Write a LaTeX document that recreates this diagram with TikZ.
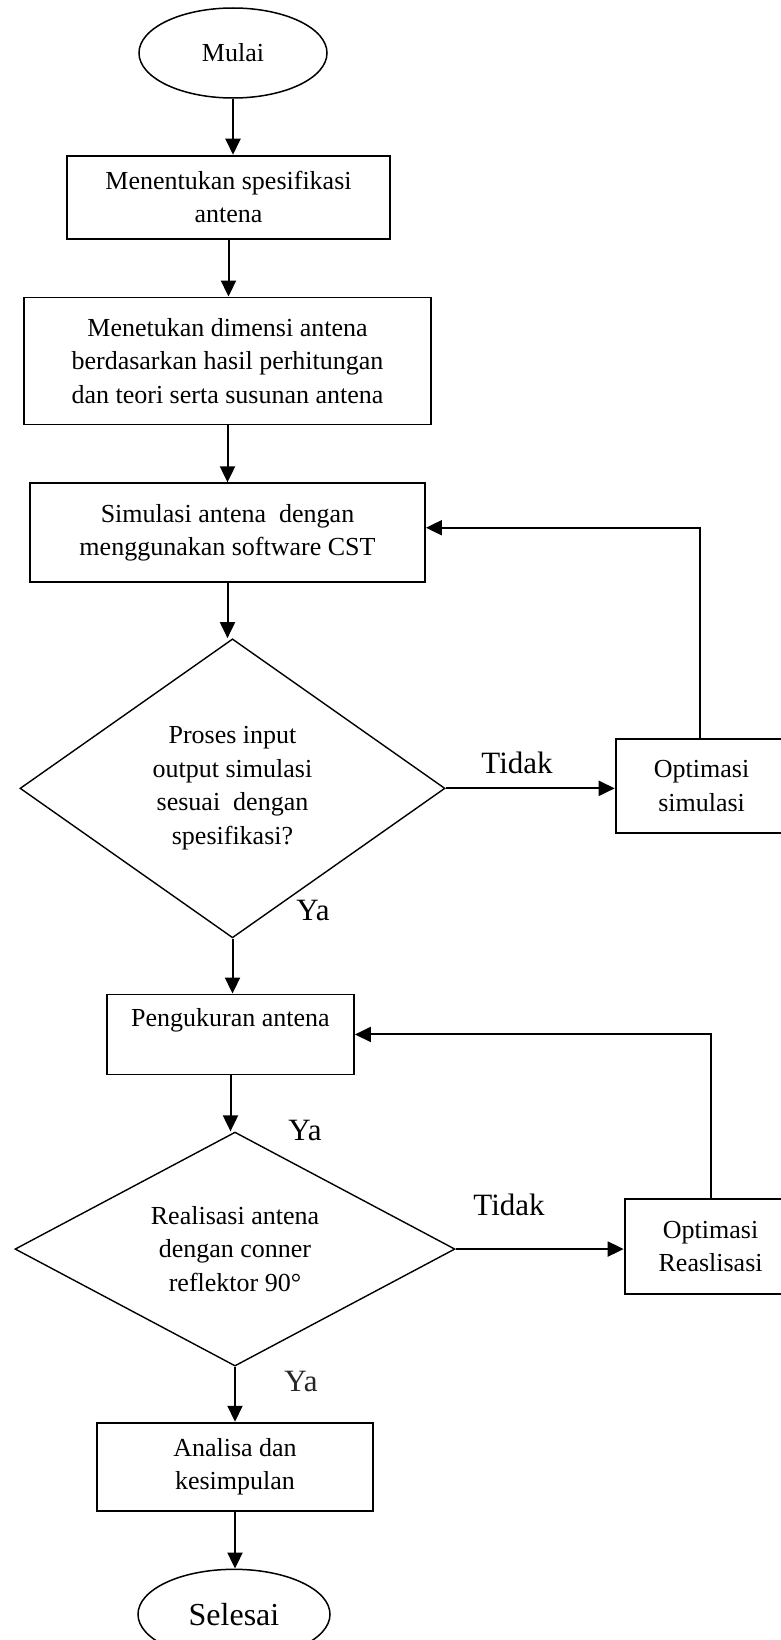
\documentclass[tikz,border=0pt]{standalone}
\usepackage{fontspec}
\setmainfont{Liberation Serif}
\usetikzlibrary{arrows.meta, positioning, shapes.geometric}

\begin{document}
\begin{tikzpicture}[x=1pt, y=1pt,
  every node/.style={font=\fontsize{26}{33.5}\selectfont, align=center},
  terminal/.style={ellipse, draw, line width=1.5pt, inner sep=0pt},
  proses/.style={rectangle, draw, line width=1.8pt, inner sep=0pt},
  keputusan/.style={diamond, draw, line width=1.4pt, inner sep=0pt, aspect=1.42},
  panah/.style={line width=2pt, -{Triangle[length=16pt,width=15pt]}},
  ket/.style={font=\fontsize{31}{36}\selectfont, inner sep=0pt}]
\useasboundingbox (0,0) rectangle (780,-1640);

% jalur utama
\node[terminal, minimum width=188pt, minimum height=90pt] (mulai) at (233,-53) {Mulai};
\node[proses, minimum width=323pt, minimum height=83pt, below=56pt of mulai, xshift=-4.5pt] (spek) {Menentukan spesifikasi\\antena};
\node[proses, minimum width=407pt, minimum height=127pt, below=57pt of spek, xshift=-1pt] (dimensi) {Menetukan dimensi antena\\berdasarkan hasil perhitungan\\dan teori serta susunan antena};
\node[proses, minimum width=395pt, minimum height=99pt, below=57pt of dimensi] (sim) {Simulasi antena~ dengan\\menggunakan software CST};
\node[keputusan, minimum width=425pt, minimum height=299pt, below=55pt of sim, xshift=5pt] (cek) {Proses input\\output simulasi\\sesuai~ dengan\\spesifikasi?};
\node[proses, minimum width=247pt, minimum height=80pt, below=55pt of cek, xshift=-2pt] (ukur) {Pengukuran antena\\~};
\node[keputusan, minimum width=440pt, minimum height=234pt, below=56pt of ukur, xshift=4.5pt] (real) {Realisasi antena\\dengan conner\\reflektor 90°};
\node[proses, minimum width=276pt, minimum height=88pt, below=55pt of real] (analisa) {Analisa dan\\kesimpulan};
\node[terminal, minimum width=192pt, minimum height=90pt, below=57pt of analisa, xshift=-1pt] (selesai) {\fontsize{32}{36}\selectfont Selesai};

% kotak optimasi
\node[proses, minimum width=172pt, minimum height=94pt, right=169pt of cek, yshift=2.5pt] (optsim) {Optimasi\\simulasi};
\node[proses, minimum width=172pt, minimum height=95pt, right=168pt of real, yshift=2.5pt] (optreal) {Optimasi\\Reaslisasi};

% panah
\draw[panah] (mulai.south) -- (mulai.south |- spek.north);
\draw[panah] (spek.south) -- (spek.south |- dimensi.north);
\draw[panah] (dimensi.south) -- (dimensi.south |- sim.north);
\draw[panah] (sim.south) -- (sim.south |- cek.north);
\draw[panah] (cek.south) -- (cek.south |- ukur.north);
\draw[panah] (ukur.south) -- (ukur.south |- real.north);
\draw[panah] (real.south) -- (real.south |- analisa.north);
\draw[panah] (analisa.south) -- (analisa.south |- selesai.north);
\draw[panah] (cek.east) -- (cek.east -| optsim.west);
\draw[panah] (real.east) -- (real.east -| optreal.west);
\draw[panah] ([xshift=-2pt]optsim.north) |- ([yshift=5pt]sim.east);
\draw[panah] (optreal.north) |- (ukur.east);

% keterangan
\node[ket] (tidak1) at (517,-763) {Tidak};
\node[ket] (ya1) at (313,-910) {Ya};
\node[ket] (ya2) at (305,-1130) {Ya};
\node[ket] (tidak2) at (509,-1205) {Tidak};
\node[ket, text=black!85] (ya3) at (301,-1381) {Ya};
\end{tikzpicture}
\end{document}
